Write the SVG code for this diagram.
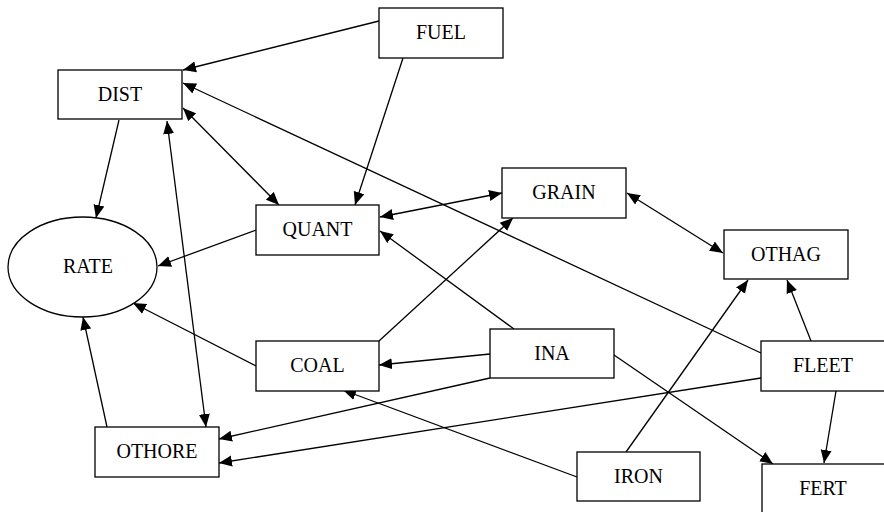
<svg xmlns="http://www.w3.org/2000/svg" width="884" height="512" viewBox="0 0 884 512">
<style>
.n rect, .n ellipse { fill: #fff; stroke: #000; stroke-width: 1.3; }
.n text { font-family: "Liberation Serif", "Times New Roman", serif; font-size: 20px; text-anchor: middle; fill: #000; }
#edges line { stroke: #000; stroke-width: 1.3; fill: none; marker-end: url(#ah); }
#edges line.bi { marker-start: url(#ah); }
</style>
<defs>
<marker id="ah" markerUnits="userSpaceOnUse" markerWidth="14" markerHeight="12" refX="13" refY="5.5" orient="auto-start-reverse" viewBox="0 0 14 11">
<path d="M0,0 L13,5.5 L0,11 Z" fill="#000"/>
</marker>
</defs>
<rect width="884" height="512" fill="#fff"/>
<g id="edges">
<line x1="379" y1="21" x2="183" y2="70"/>
<line x1="403" y1="58" x2="355" y2="205"/>
<line x1="761" y1="353" x2="183" y2="83"/>
<line class="bi" x1="183" y1="108" x2="279" y2="205"/>
<line x1="119" y1="120" x2="96" y2="218"/>
<line class="bi" x1="167" y1="121" x2="206" y2="427"/>
<line x1="256" y1="230" x2="158" y2="266"/>
<line class="bi" x1="380" y1="217" x2="502" y2="193"/>
<line x1="514" y1="329" x2="380" y2="231"/>
<line x1="379" y1="341" x2="513" y2="218"/>
<line class="bi" x1="627" y1="193" x2="723" y2="253"/>
<line x1="256" y1="366" x2="133" y2="303"/>
<line x1="107" y1="427" x2="83" y2="317"/>
<line x1="490" y1="354" x2="379" y2="365"/>
<line x1="490" y1="378" x2="219" y2="439"/>
<line x1="761" y1="378" x2="219" y2="463"/>
<line x1="577" y1="477" x2="343" y2="390"/>
<line x1="626" y1="452" x2="748" y2="280"/>
<line x1="811" y1="341" x2="787" y2="280"/>
<line x1="836" y1="391" x2="824" y2="463"/>
<line x1="614" y1="355" x2="773" y2="464"/>
</g>
<g id="FUEL" class="n"><rect x="379" y="8" width="124" height="50"/><text x="441" y="39">FUEL</text></g>
<g id="DIST" class="n"><rect x="58" y="70" width="124" height="49"/><text x="120" y="101">DIST</text></g>
<g id="QUANT" class="n"><rect x="256" y="205" width="123" height="50"/><text x="317.5" y="236">QUANT</text></g>
<g id="GRAIN" class="n"><rect x="502" y="168" width="124" height="50"/><text x="564" y="199">GRAIN</text></g>
<g id="OTHAG" class="n"><rect x="724" y="230" width="124" height="49"/><text x="786" y="261">OTHAG</text></g>
<g id="RATE" class="n"><ellipse cx="82.5" cy="267" rx="74.5" ry="50"/><text x="88" y="273">RATE</text></g>
<g id="COAL" class="n"><rect x="256" y="341" width="123" height="50"/><text x="317.5" y="371.5">COAL</text></g>
<g id="INA" class="n"><rect x="490" y="329" width="124" height="49"/><text x="552" y="360">INA</text></g>
<g id="FLEET" class="n"><rect x="761" y="341" width="124" height="50"/><text x="823" y="371.5">FLEET</text></g>
<g id="OTHORE" class="n"><rect x="95" y="427" width="124" height="50"/><text x="157" y="457.5">OTHORE</text></g>
<g id="IRON" class="n"><rect x="577" y="452" width="123" height="49"/><text x="638.5" y="483">IRON</text></g>
<g id="FERT" class="n"><rect x="762" y="464" width="124" height="50"/><text x="823" y="495">FERT</text></g>
</svg>
